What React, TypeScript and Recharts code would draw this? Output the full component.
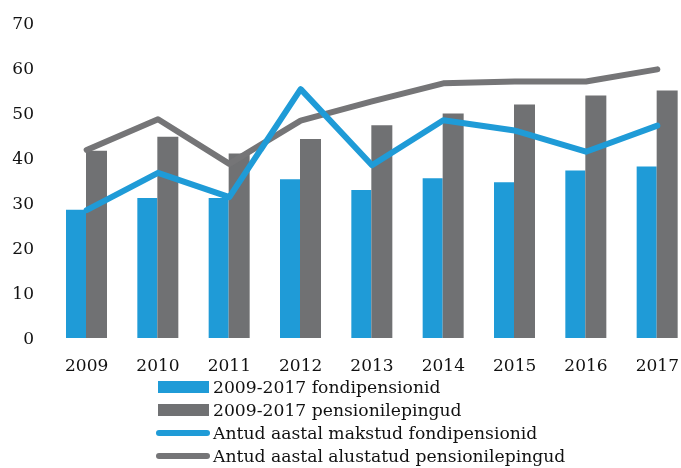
import { ComposedChart, Bar, Line, XAxis, YAxis, Legend } from "recharts";

// years on the x axis
const years = ["2009", "2010", "2011", "2012", "2013", "2014", "2015", "2016", "2017"];

// bars
const fondiBars = [28.5, 31.1, 31.1, 35.3, 32.9, 35.5, 34.6, 37.2, 38.1];
const lepingBars = [41.6, 44.7, 41.0, 44.2, 47.3, 49.9, 51.9, 53.9, 55.0];

// lines
const fondiLine = [28.4, 36.7, 31.3, 55.3, 38.4, 48.4, 46.1, 41.4, 47.2];
const lepingLine = [41.8, 48.6, 38.7, 48.3, 52.6, 56.6, 57.0, 57.0, 59.7];

const yTicks = [0, 10, 20, 30, 40, 50, 60, 70];

const BLUE = "#1f9bd7";
const GRAY = "#707173";
const GRAY_LINE = "#757577";
const FONT = "'DejaVu Serif', serif";

const data = years.map((year, i) => ({
  year,
  fondiBar: fondiBars[i],
  lepingBar: lepingBars[i],
  fondiLine: fondiLine[i],
  lepingLine: lepingLine[i],
}));

const legendItems = [
  { label: "2009-2017 fondipensionid", color: BLUE, kind: "bar" },
  { label: "2009-2017 pensionilepingud", color: GRAY, kind: "bar" },
  { label: "Antud aastal makstud fondipensionid", color: BLUE, kind: "line" },
  { label: "Antud aastal alustatud pensionilepingud", color: GRAY_LINE, kind: "line" },
];

const CustomLegend = () => (
  <div style={{ fontFamily: FONT, fontSize: 17.2, color: "#111", paddingTop: 2.5 }}>
    {legendItems.map((item) => (
      <div key={item.label} style={{ display: "flex", alignItems: "center", height: 23, whiteSpace: "nowrap" }}>
        <span
          style={{
            display: "inline-block",
            width: item.kind === "bar" ? 51 : 54,
            height: item.kind === "bar" ? 12 : 6,
            background: item.color,
            borderRadius: item.kind === "bar" ? 0 : 3,
            marginLeft: item.kind === "bar" ? 2 : 0,
            marginRight: item.kind === "bar" ? 4 : 3,
          }}
        />
        <span>{item.label}</span>
      </div>
    ))}
  </div>
);

const App = () => {
  return (
    <div style={{ position: "fixed", top: 8, left: 8, width: 685, height: 460, overflow: "hidden" }}>
      <style>{"body{overflow:hidden}"}</style>
      <ComposedChart
        width={685}
        height={460}
        data={data}
        margin={{ top: 15, right: 0, bottom: 0, left: 0 }}
        barGap={0}
      >
        <XAxis
          dataKey="year"
          axisLine={false}
          tickLine={false}
          tickSize={0}
          tickMargin={21}
          height={35}
          tick={{ fill: "#111", fontSize: 17, fontFamily: FONT }}
          interval={0}
        />
        <YAxis
          domain={[0, 70]}
          ticks={yTicks}
          axisLine={false}
          tickLine={false}
          tickSize={0}
          tickMargin={17}
          width={43}
          tick={{ fill: "#111", fontSize: 17, fontFamily: FONT }}
        />
        <Legend
          verticalAlign="bottom"
          content={<CustomLegend />}
          wrapperStyle={{ left: 148, bottom: 0, width: "auto", height: 95 }}
        />
        <Bar dataKey="fondiBar" fill={BLUE} barSize={20} isAnimationActive={false} />
        <Bar dataKey="lepingBar" fill={GRAY} barSize={21} isAnimationActive={false} />
        <Line
          dataKey="lepingLine"
          stroke={GRAY_LINE}
          strokeWidth={6}
          strokeLinecap="round"
          strokeLinejoin="round"
          dot={false}
          activeDot={false}
          type="linear"
          isAnimationActive={false}
        />
        <Line
          dataKey="fondiLine"
          stroke={BLUE}
          strokeWidth={6}
          strokeLinecap="round"
          strokeLinejoin="round"
          dot={false}
          activeDot={false}
          type="linear"
          isAnimationActive={false}
        />
      </ComposedChart>
    </div>
  );
};

export default App;
